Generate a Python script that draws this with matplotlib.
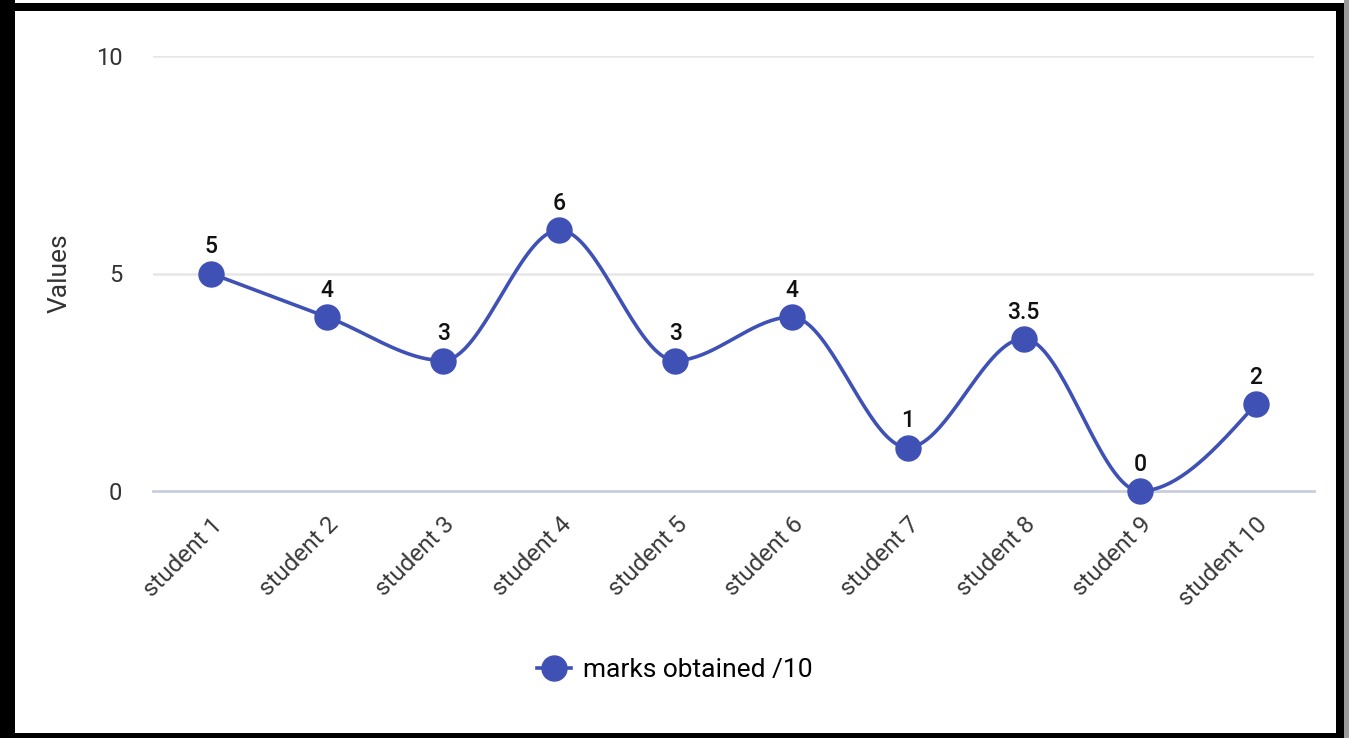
import numpy as np
import matplotlib
matplotlib.use("Agg")
import matplotlib.pyplot as plt
from matplotlib.patches import Rectangle
from matplotlib.lines import Line2D

students = ["student 1", "student 2", "student 3", "student 4", "student 5",
            "student 6", "student 7", "student 8", "student 9", "student 10"]
marks = [5, 4, 3, 6, 3, 4, 1, 3.5, 0, 2]
value_labels = ["5", "4", "3", "6", "3", "4", "1", "3.5", "0", "2"]
y_ticks = [0, 5, 10]
series_name = "marks obtained /10"

LINE_COLOR = "#3F51B5"
FONT = ["Roboto", "DejaVu Sans"]
plt.rcParams["font.family"] = FONT


def monotone_curve(x, y, samples=40):
    """Monotone cubic interpolation (Steffen slopes), no overshoot at extrema."""
    x = np.asarray(x, float)
    y = np.asarray(y, float)
    n = len(x)
    h = np.diff(x)
    s = np.diff(y) / h
    t = np.zeros(n)
    for i in range(1, n - 1):
        p = (s[i - 1] * h[i] + s[i] * h[i - 1]) / (h[i - 1] + h[i])
        t[i] = (np.sign(s[i - 1]) + np.sign(s[i])) * min(abs(s[i - 1]), abs(s[i]), 0.5 * abs(p))
    t[0] = (3 * s[0] - t[1]) / 2
    t[-1] = (3 * s[-1] - t[-2]) / 2
    xs, ys = [], []
    for i in range(n - 1):
        u = np.linspace(0, 1, samples, endpoint=(i == n - 2))
        h00 = 2 * u**3 - 3 * u**2 + 1
        h10 = u**3 - 2 * u**2 + u
        h01 = -2 * u**3 + 3 * u**2
        h11 = u**3 - u**2
        xs.append(x[i] + u * h[i])
        ys.append(h00 * y[i] + h10 * h[i] * t[i] + h01 * y[i + 1] + h11 * h[i] * t[i + 1])
    return np.concatenate(xs), np.concatenate(ys)


W, H = 1349, 738
fig = plt.figure(figsize=(W / 100, H / 100), dpi=100)
fig.patch.set_facecolor("white")

left, right, top, bottom = 153, 1314, 56, 491
ax = fig.add_axes([left / W, (H - bottom) / H, (right - left) / W, (bottom - top) / H])

xpos = np.arange(len(students))
cx, cy = monotone_curve(xpos, marks)
ax.plot(cx, cy, color=LINE_COLOR, lw=2.6, solid_capstyle="round", zorder=3, clip_on=False)
ax.plot(xpos, marks, "o", color=LINE_COLOR, ms=18, zorder=4, clip_on=False)

for xi, yi, lab in zip(xpos, marks, value_labels):
    ax.annotate(lab, (xi, yi), xytext=(0, 14.5), textcoords="offset points",
                ha="center", va="baseline", fontsize=16.5, fontweight="medium",
                color="#111111", zorder=5)

ax.set_xlim(-0.5, len(students) - 0.5)
ax.set_ylim(0, 10)
ax.set_yticks(y_ticks)
ax.set_yticklabels([str(v) for v in y_ticks])
ax.set_xticks(xpos)
ax.set_xticklabels(students, rotation=45, ha="right", va="top",
                   rotation_mode="anchor", fontsize=17.5, color="#3a3a3a")
ax.tick_params(axis="x", length=0, pad=16)
ax.tick_params(axis="y", length=0, pad=22, labelsize=17, labelcolor="#333333")

for v in y_ticks:
    if v == 0:
        ax.axhline(v, color="#c9cde0", lw=2.0, zorder=1, clip_on=False)
    else:
        ax.axhline(v, color="#e6e6e6", lw=1.8, zorder=1)

for sp in ax.spines.values():
    sp.set_visible(False)

ax.set_ylabel("Values", fontsize=19, color="#333333")
ax.yaxis.set_label_coords(-0.07, 0.5)

handle = Line2D([0], [0], color=LINE_COLOR, lw=2.6, marker="o", ms=18)
fig.legend([handle], [series_name], loc="center", bbox_to_anchor=(0.5, 0.092),
           frameon=False, fontsize=19, handlelength=1.3, handletextpad=0.45)

# black screenshot frame
frame = [
    (0, 0, 15 / W, 1),                         # left
    (0, 1 - 11 / H, 1344 / W, 8 / H),          # top
    (1336 / W, 0, 8 / W, 1 - 3 / H),           # right
    (0, 0, 1344 / W, 5 / H),                   # bottom
]
for x0, y0, w, h in frame:
    fig.patches.append(Rectangle((x0, y0), w, h, transform=fig.transFigure,
                                 facecolor="black", edgecolor="none", zorder=10))
fig.patches.append(Rectangle((1344 / W, 0), 5 / W, 1, transform=fig.transFigure,
                             facecolor="#9a9a9a", edgecolor="none", zorder=10))

fig.savefig("out.png", dpi=100)
